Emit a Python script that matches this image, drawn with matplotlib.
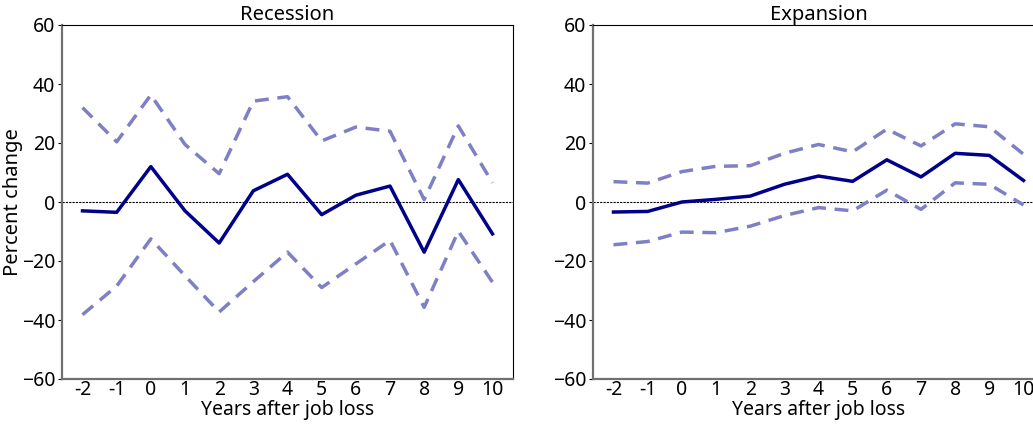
import matplotlib
matplotlib.use("Agg")
import matplotlib.pyplot as plt

plt.rcParams['font.family'] = ['Noto Sans', 'DejaVu Sans']

years = [-2, -1, 0, 1, 2, 3, 4, 5, 6, 7, 8, 9, 10]
year_labels = ["-2", "-1", "0", "1", "2", "3", "4", "5", "6", "7", "8", "9", "10"]

rec_mid = [-3.0, -3.5, 12.0, -3.0, -13.9, 3.8, 9.4, -4.3, 2.3, 5.4, -17.0, 7.6, -10.8]
rec_hi = [32.0, 20.4, 36.3, 19.5, 9.6, 34.2, 35.7, 20.7, 25.4, 24.0, 0.8, 25.8, 6.5]
rec_lo = [-38.2, -28.5, -12.5, -25.0, -37.3, -27.0, -17.0, -29.0, -21.0, -13.0, -35.7, -9.9, -27.2]

exp_mid = [-3.4, -3.2, 0.0, 0.9, 2.0, 6.0, 8.8, 7.0, 14.3, 8.5, 16.5, 15.8, 7.3]
exp_hi = [6.9, 6.4, 10.3, 12.1, 12.3, 16.5, 19.5, 17.0, 24.7, 19.0, 26.5, 25.5, 16.2]
exp_lo = [-14.5, -13.4, -10.2, -10.4, -8.2, -4.6, -1.9, -3.0, 4.0, -2.5, 6.5, 6.0, -1.0]

W, H = 1033, 424
fig = plt.figure(figsize=(W / 100, H / 100), dpi=100)
ax1 = fig.add_axes([62 / W, 1 - 379 / H, 451 / W, 354 / H])
ax2 = fig.add_axes([593 / W, 1 - 379 / H, 451 / W, 354 / H])

panels = [(ax1, "Recession", rec_mid, rec_hi, rec_lo),
          (ax2, "Expansion", exp_mid, exp_hi, exp_lo)]

for ax, title, mid, hi, lo in panels:
    ax.axhline(0, color='black', linewidth=0.8, linestyle=(0, (2, 1)))
    ax.plot(years, hi, color='#7f7fc6', linewidth=2.5, linestyle=(0, (4, 2.5)))
    ax.plot(years, lo, color='#7f7fc6', linewidth=2.5, linestyle=(0, (4, 2.5)))
    ax.plot(years, mid, color='#00008b', linewidth=2.5)
    ax.set_xlim(-2.6, 10.6)
    ax.set_ylim(-60, 60)
    ax.set_xticks(years)
    ax.set_xticklabels(year_labels)
    ax.set_yticks([-60, -40, -20, 0, 20, 40, 60])
    ax.tick_params(labelsize=14, length=3, width=0.8)
    ax.tick_params(axis='y', pad=2)
    ax.tick_params(axis='x', length=0, pad=1)
    ax.set_title(title, fontsize=14.5, pad=0)
    ax.set_xlabel("Years after job loss", fontsize=14, labelpad=0)
    for side in ['left', 'bottom']:
        ax.spines[side].set_color('#707070')
        ax.spines[side].set_linewidth(1.6)
    for side in ['top', 'right']:
        ax.spines[side].set_color('black')
        ax.spines[side].set_linewidth(0.8)

ax1.set_ylabel("Percent change", fontsize=14.5, labelpad=-1)

fig.savefig("out.png", dpi=100)
